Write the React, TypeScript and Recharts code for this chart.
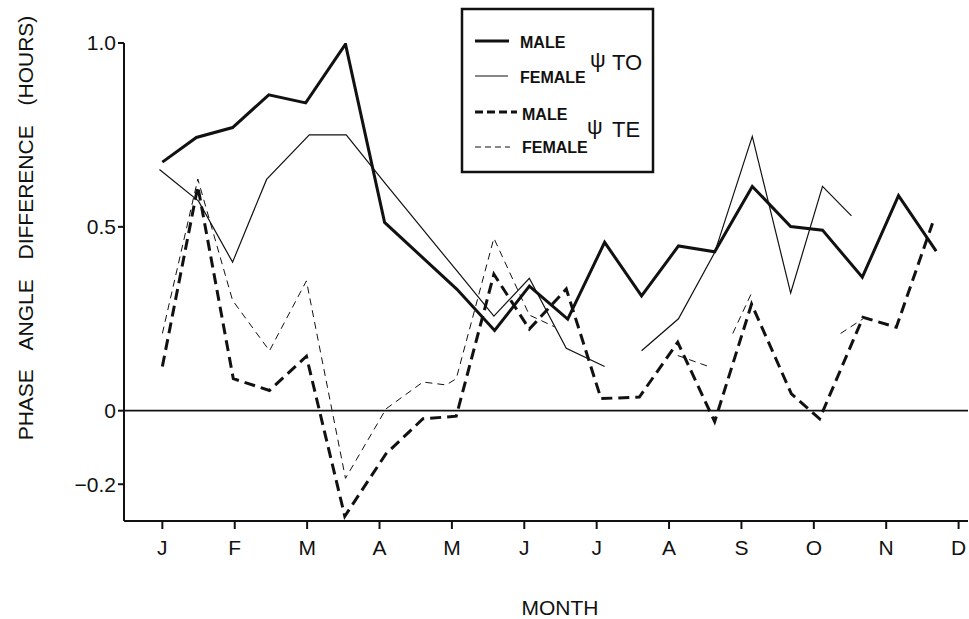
import React from 'react';
import { LineChart, Line, XAxis, YAxis, ReferenceLine } from 'recharts';

const FONT = '"Liberation Sans", Arial, sans-serif';
const INK = '#111';

const MONTHS = ['J', 'F', 'M', 'A', 'M', 'J', 'J', 'A', 'S', 'O', 'N', 'D'];
const MONTH_TICKS = MONTHS.map((_, i) => i);
const Y_TICKS = [-0.2, 0, 0.5, 1.0];

// x = months since start of January (J = 0)
const MALE_TO_X = [0, 0.47, 0.97, 1.47, 1.98, 2.53, 3.07, 4.07, 4.59, 5.07, 5.6, 6.11, 6.62, 7.13, 7.63, 8.15, 8.68, 9.12, 9.67, 10.17, 10.69];
const MALE_TO = [0.676, 0.743, 0.77, 0.859, 0.837, 0.997, 0.512, 0.33, 0.218, 0.339, 0.249, 0.458, 0.312, 0.448, 0.432, 0.61, 0.501, 0.491, 0.363, 0.585, 0.434];

const FEMALE_TO_X = [-0.04, 0.5, 0.97, 1.44, 2.03, 2.54, 3.07, 4.07, 4.58, 5.07, 5.58, 6.11, 6.36, 6.62, 7.13, 7.63, 8.15, 8.68, 9.12, 9.52];
const FEMALE_TO = [0.656, 0.57, 0.404, 0.629, 0.75, 0.75, 0.62, 0.38, 0.257, 0.36, 0.17, 0.12, null, 0.163, 0.25, 0.43, 0.746, 0.32, 0.61, 0.53];

const MALE_TE_X = [0, 0.49, 0.98, 1.48, 1.99, 2.52, 3.09, 3.6, 4.06, 4.58, 5.07, 5.58, 6.06, 6.59, 7.12, 7.63, 8.14, 8.69, 9.08, 9.68, 10.14, 10.64];
const MALE_TE = [0.12, 0.61, 0.087, 0.055, 0.148, -0.287, -0.117, -0.022, -0.015, 0.371, 0.222, 0.331, 0.033, 0.037, 0.186, -0.03, 0.29, 0.046, -0.022, 0.254, 0.227, 0.51];

const FEMALE_TE_X = [0, 0.49, 0.97, 1.48, 1.99, 2.53, 3.09, 3.6, 3.92, 4.06, 4.58, 5.07, 5.42, 6.2, 7.12, 7.55, 7.7, 7.88, 8.14, 8.8, 9.37, 9.68];
const FEMALE_TE = [0.21, 0.63, 0.3, 0.163, 0.353, -0.184, 0.005, 0.078, 0.07, 0.087, 0.469, 0.26, 0.228, null, 0.15, 0.12, null, 0.21, 0.32, null, 0.21, 0.25];

const rows = (xs: number[], ys: (number | null)[]) => xs.map((m, i) => ({ m, v: ys[i] }));

function LegendBox() {
  const txt = { fontFamily: FONT, fontWeight: 700, fontSize: 16, fill: INK } as const;
  const big = { fontFamily: FONT, fontSize: 22, fill: INK } as const;
  return (
    <svg width={969} height={619} style={{ position: 'absolute', left: 0, top: 0, pointerEvents: 'none' }}>
      <rect x={462} y={9} width={191} height={163} fill="#fff" stroke={INK} strokeWidth={2.5} />
      <line x1={475} x2={509} y1={41} y2={41} stroke={INK} strokeWidth={3} />
      <text x={520} y={48} {...txt}>MALE</text>
      <line x1={475} x2={508} y1={76} y2={76} stroke={INK} strokeWidth={1.2} />
      <text x={520} y={83} {...txt}>FEMALE</text>
      <text x={590} y={67} {...big}>ψ</text>
      <text x={612} y={70} {...big}>TO</text>
      <line x1={475} x2={517} y1={112} y2={112} stroke={INK} strokeWidth={3} strokeDasharray="8 4" />
      <text x={522} y={120} {...txt}>MALE</text>
      <line x1={475} x2={510} y1={147} y2={147} stroke={INK} strokeWidth={1} strokeDasharray="6 4" />
      <text x={522} y={153} {...txt}>FEMALE</text>
      <text x={587} y={134} {...big}>ψ</text>
      <text x={612} y={137} {...big}>TE</text>

      <text
        x={0}
        y={0}
        transform="translate(33 228) rotate(-90)"
        textAnchor="middle"
        style={{ fontFamily: FONT, fontSize: 21, fill: INK, wordSpacing: 14 }}
      >
        PHASE ANGLE DIFFERENCE (HOURS)
      </text>
      <text x={560} y={615} textAnchor="middle" style={{ fontFamily: FONT, fontSize: 21, fill: INK }}>
        MONTH
      </text>
    </svg>
  );
}

export default function App() {
  const tick = { fontFamily: FONT, fontSize: 21, fill: INK };
  return (
    <div style={{ position: 'absolute', left: 0, top: 0, width: 969, height: 619, background: '#fff' }}>
      <LineChart width={969} height={619} margin={{ top: 43, right: 1, bottom: 58, left: 24 }}>
        <XAxis
          dataKey="m"
          type="number"
          domain={[-0.53, 11.13]}
          ticks={MONTH_TICKS}
          tickFormatter={(i: number) => MONTHS[i]}
          allowDataOverflow
          height={40}
          tickSize={8}
          tickMargin={11}
          stroke={INK}
          strokeWidth={2}
          tick={tick}
        />
        <YAxis
          type="number"
          domain={[-0.3, 1.0]}
          ticks={Y_TICKS}
          tickFormatter={(v: number) => (v === 0 ? '0' : v < 0 ? '\u2212' + Math.abs(v).toFixed(1) : v.toFixed(1))}
          allowDataOverflow
          width={100}
          tickSize={6}
          stroke={INK}
          strokeWidth={2}
          tick={tick}
        />
        <ReferenceLine y={0} stroke={INK} strokeWidth={1.8} />
        <Line data={rows(FEMALE_TE_X, FEMALE_TE)} dataKey="v" stroke={INK} strokeWidth={1} strokeDasharray="7 5" dot={false} isAnimationActive={false} />
        <Line data={rows(FEMALE_TO_X, FEMALE_TO)} dataKey="v" stroke={INK} strokeWidth={1.2} dot={false} isAnimationActive={false} />
        <Line data={rows(MALE_TE_X, MALE_TE)} dataKey="v" stroke={INK} strokeWidth={3} strokeDasharray="11 6" dot={false} isAnimationActive={false} />
        <Line data={rows(MALE_TO_X, MALE_TO)} dataKey="v" stroke={INK} strokeWidth={3} dot={false} isAnimationActive={false} />
      </LineChart>
      <LegendBox />
    </div>
  );
}
